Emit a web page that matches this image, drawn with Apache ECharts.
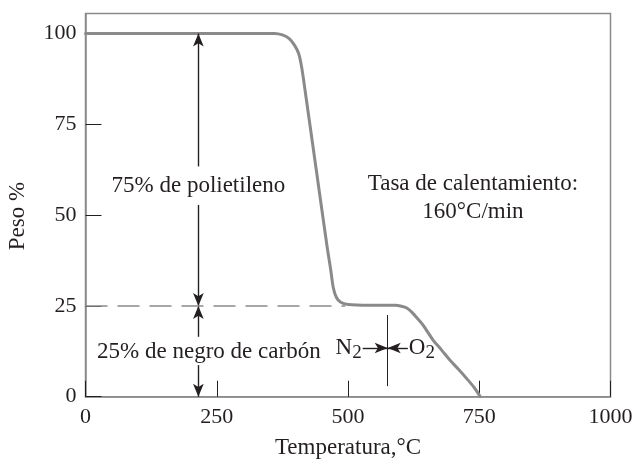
<!DOCTYPE html>
<html>
<head>
<meta charset="utf-8">
<script src="https://cdn.jsdelivr.net/npm/echarts@6/dist/echarts.min.js"></script>
<style>
  html, body { margin: 0; padding: 0; background: #fff; }
  #chart { width: 637px; height: 460px; }
</style>
</head>
<body>
<div id="chart"></div>
<script>
// Thermogravimetric curve: polyethylene + carbon black, heated at 160 °C/min
const temperatura = [0, 300, 360, 375, 388, 398, 406, 412, 420, 440, 460, 467, 472, 478, 486, 500, 540, 590, 602, 612, 622, 632, 643, 662, 678, 694, 710, 726, 740, 752];
const peso = [100, 100, 100, 99.6, 98.6, 96.8, 94.5, 90.5, 82.5, 62, 41.5, 35, 30, 27.3, 26, 25.4, 25.2, 25.2, 24.9, 24.4, 23.2, 21.6, 19.7, 15.6, 12.9, 10.1, 7.6, 5.0, 2.6, 0];

const xTicks = [0, 250, 500, 750, 1000];
const yTicks = [0, 25, 50, 75, 100];

// Annotation anchors (temperature, weight %)
const tempFlecha = 215;          // vertical double arrows
const nivelCarbon = 25;          // residue level
const finDiscontinua = 495;      // end of dashed residue line
const tempCambioGas = 575.6;     // switch from N2 to O2
const nivelGas = 13.4;

const FONT = '"Liberation Serif", "Times New Roman", serif';
const INK = '#231f20';
const GRIS = '#8a8a8a';
const TXT = 23;   // annotation / axis-name size
const TICK = 22;  // tick label size

const curva = temperatura.map((t, i) => [t, peso[i]]);

const chart = echarts.init(document.getElementById('chart'), null, { renderer: 'canvas' });

function seg(a, b, symA, symB, style) {
  return [
    { coord: a, symbol: symA, symbolSize: [8, 13] },
    { coord: b, symbol: symB, symbolSize: [8, 13], lineStyle: style }
  ];
}

const flecha = { color: INK, width: 1.4, type: 'solid' };
const sub = {
  n: { fontFamily: FONT, fontSize: TXT, color: INK },
  s: { fontFamily: FONT, fontSize: 19, color: INK, padding: [10, 0, 0, 0] }
};

const option = {
  animation: false,
  backgroundColor: '#fff',
  grid: {
    left: 85.5, right: 26.5, top: 13.5, bottom: 63.3,
    containLabel: false, outerBoundsMode: 'none',
    show: true, borderColor: GRIS, borderWidth: 1.5, backgroundColor: 'transparent'
  },
  xAxis: {
    type: 'value', min: xTicks[0], max: xTicks[xTicks.length - 1], interval: 250,
    name: 'Temperatura,°C', nameLocation: 'middle', nameGap: 40,
    nameTextStyle: { fontFamily: FONT, fontSize: TXT, color: INK },
    axisLine: { show: true, lineStyle: { color: GRIS, width: 1.5 } },
    axisTick: { show: true, inside: true, length: 16, lineStyle: { color: INK, width: 1 } },
    axisLabel: { margin: 10, fontFamily: FONT, fontSize: TICK, color: INK, formatter: v => String(v) },
    splitLine: { show: false }
  },
  yAxis: {
    type: 'value', min: yTicks[0], max: 105.5, interval: 25,
    name: 'Peso %', nameLocation: 'middle', nameGap: 56, nameRotate: 90,
    nameTextStyle: { fontFamily: FONT, fontSize: TXT, color: INK, padding: [0, 22, 0, 0] },
    axisLine: { show: true, lineStyle: { color: GRIS, width: 1.5 } },
    axisTick: { show: true, inside: true, length: 16, lineStyle: { color: INK, width: 1 } },
    axisLabel: { margin: 9, fontFamily: FONT, fontSize: TICK, color: INK, showMaxLabel: false,
      formatter: v => (yTicks.indexOf(v) >= 0 ? String(v) : '') },
    splitLine: { show: false }
  },
  series: [
    {
      type: 'line',
      data: curva,
      showSymbol: false,
      smooth: 0.3,
      lineStyle: { color: GRIS, width: 3, cap: 'round', join: 'round' },
      z: 3
    },
    {
      // arrows, dashed residue line and gas-switch marker
      type: 'line',
      data: [],
      markLine: {
        silent: true,
        animation: false,
        label: { show: false },
        lineStyle: flecha,
        data: [
          seg([tempFlecha, 63.4], [tempFlecha, 100], 'none', 'arrow', flecha),
          seg([tempFlecha, 52.8], [tempFlecha, nivelCarbon], 'none', 'arrow', flecha),
          seg([tempFlecha, 16.5], [tempFlecha, nivelCarbon], 'none', 'arrow', flecha),
          seg([tempFlecha, 8.7], [tempFlecha, 0], 'none', 'arrow', flecha),
          seg([0, nivelCarbon], [finDiscontinua, nivelCarbon], 'none', 'none',
              { color: GRIS, width: 1.5, type: [22, 10] }),
          seg([tempCambioGas, 2.9], [tempCambioGas, 22.5], 'none', 'none',
              { color: INK, width: 1, type: 'solid' }),
          seg([528, nivelGas], [tempCambioGas, nivelGas], 'none', 'arrow', flecha),
          seg([614, nivelGas], [tempCambioGas, nivelGas], 'none', 'arrow', flecha)
        ]
      },
      markPoint: {
        silent: true,
        symbol: 'circle',
        symbolSize: 0,
        label: { show: true, position: 'inside', fontFamily: FONT, fontSize: TXT, color: INK },
        data: [
          { coord: [tempFlecha, 58.0], label: { formatter: '75% de polietileno' } },
          { coord: [235, 12.4], label: { formatter: '25% de negro de carbón' } },
          { coord: [738, 54.6], label: { formatter: 'Tasa de calentamiento:\n160°C/min', lineHeight: 28, align: 'center' } },
          { coord: [528, nivelGas], label: { position: 'left', distance: 1, formatter: '{n|N}{s|2}', rich: sub } },
          { coord: [614, nivelGas], label: { position: 'right', distance: 1, formatter: '{n|O}{s|2}', rich: sub } }
        ]
      }
    }
  ]
};

chart.setOption(option);
</script>
</body>
</html>
